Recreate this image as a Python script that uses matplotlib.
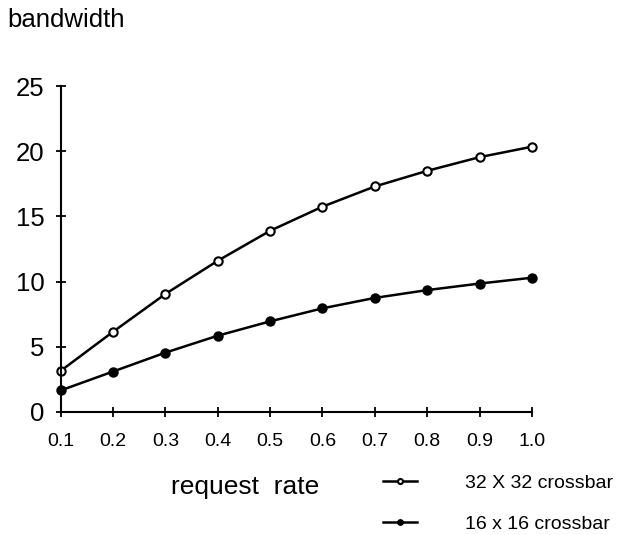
import matplotlib
matplotlib.use("Agg")
import matplotlib.pyplot as plt

# request rate vs bandwidth
request_rate = [0.1, 0.2, 0.3, 0.4, 0.5, 0.6, 0.7, 0.8, 0.9, 1.0]
bw_32 = [3.15, 6.15, 9.05, 11.6, 13.9, 15.75, 17.3, 18.5, 19.55, 20.35]
bw_16 = [1.65, 3.1, 4.55, 5.85, 6.95, 7.95, 8.75, 9.35, 9.85, 10.3]
xtick_labels = ["0.1", "0.2", "0.3", "0.4", "0.5", "0.6", "0.7", "0.8", "0.9", "1.0"]
yticks = [0, 5, 10, 15, 20, 25]

plt.rcParams['font.family'] = ['Liberation Sans', 'DejaVu Sans']

fig = plt.figure(figsize=(6.25, 5.35), dpi=100)
ax = fig.add_axes([0.097, 0.230, 0.754, 0.609])

ax.plot(request_rate, bw_32, color="black", lw=1.8, marker="o", ms=6,
        mfc="white", mec="black", mew=1.5, clip_on=False, label="32 X 32 crossbar")
ax.plot(request_rate, bw_16, color="black", lw=1.8, marker="o", ms=6.5,
        mfc="black", mec="black", clip_on=False, label="16 x 16 crossbar")

ax.set_xlim(0.1, 1.0)
ax.set_ylim(0, 25)
ax.set_xticks(request_rate)
ax.set_xticklabels(xtick_labels)
ax.set_yticks(yticks)

for side in ["top", "right"]:
    ax.spines[side].set_visible(False)
ax.spines["left"].set_linewidth(1.5)
ax.spines["bottom"].set_linewidth(1.5)
ax.tick_params(axis="x", direction="inout", length=7, width=1.3, labelsize=14, pad=12)
ax.tick_params(axis="y", direction="inout", length=7, width=1.3, labelsize=18.5, pad=8)

fig.text(0.011, 0.95, "bandwidth", fontsize=18.5, ha="left", va="baseline")
fig.text(0.392, 0.09, "request  rate", fontsize=19, ha="center", va="center")

fig.legend(loc="upper left", bbox_to_anchor=(0.612, 0.113), frameon=False,
           fontsize=14, handlelength=1.75, handletextpad=2.5, labelspacing=1.2,
           borderaxespad=0, borderpad=0, markerscale=0.6)

fig.savefig("out.png", dpi=100)
